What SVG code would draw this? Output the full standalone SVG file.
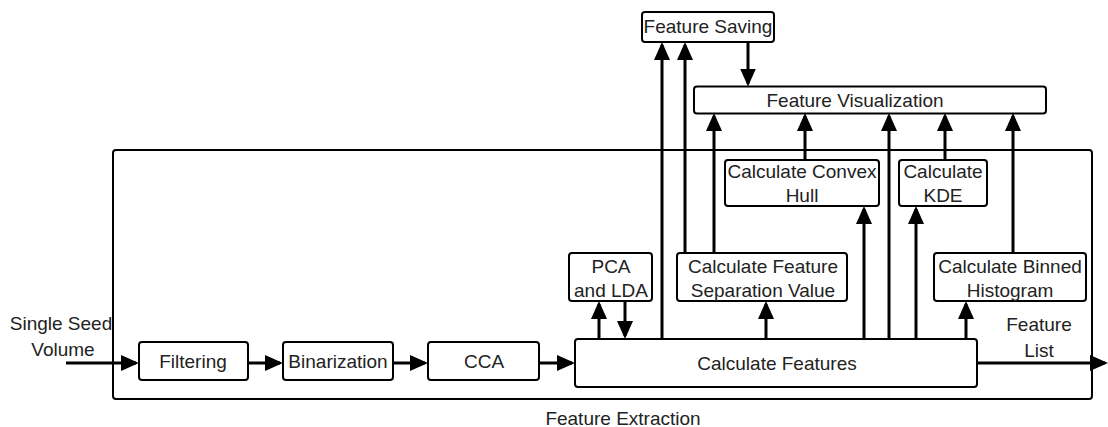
<svg xmlns="http://www.w3.org/2000/svg" width="1108" height="427" viewBox="0 0 1108 427">
<style>
.box{fill:#fff;stroke:#000;stroke-width:2}
.frame{fill:none;stroke:#000;stroke-width:2}
.c{fill:none;stroke:#000;stroke-width:3}
.t{font-family:"Liberation Sans",Arial,sans-serif;font-size:19px;fill:#222;text-anchor:middle}
</style>
<defs>
<marker id="ah" markerUnits="userSpaceOnUse" markerWidth="19" markerHeight="17" refX="15" refY="8" orient="auto">
<path d="M0,0 L18,8 L0,16 Z" fill="#000"/>
</marker>
</defs>
<rect id="frame" class="frame" x="113" y="150" width="979" height="249" rx="3"/>
<g id="connectors" class="c" marker-end="url(#ah)">
<path d="M599,339 V304"/>
<path d="M625,301 V336"/>
<path d="M662,339 V45"/>
<path d="M685,253 V45"/>
<path d="M714,253 V116"/>
<path d="M766,339 V304"/>
<path d="M748,42 V83.5"/>
<path d="M805,160 V116"/>
<path d="M864,339 V209"/>
<path d="M889,339 V116"/>
<path d="M916,339 V209"/>
<path d="M945,160 V116"/>
<path d="M966,339 V304"/>
<path d="M1013,253 V116"/>
<path d="M977,363 H1105"/>
<path d="M66,363 H136"/>
<path d="M248,363 H280"/>
<path d="M393,363 H425"/>
<path d="M539,363 H572"/>
</g>
<g id="feature-saving"><rect class="box" x="642" y="12" width="132" height="30" rx="3"/><text class="t" x="708" y="33">Feature Saving</text></g>
<g id="feature-visualization"><rect class="box" x="694" y="86.5" width="352" height="27" rx="3"/><text class="t" x="855" y="107">Feature Visualization</text></g>
<g id="convex-hull"><rect class="box" x="725" y="160" width="154" height="46" rx="3"/><text class="t" x="802" y="178">Calculate Convex</text><text class="t" x="802" y="202">Hull</text></g>
<g id="kde"><rect class="box" x="899" y="160" width="88" height="46" rx="3"/><text class="t" x="943" y="178">Calculate</text><text class="t" x="943" y="202">KDE</text></g>
<g id="pca-lda"><rect class="box" x="569" y="253" width="83" height="48" rx="3"/><text class="t" x="611" y="273">PCA</text><text class="t" x="611" y="297">and LDA</text></g>
<g id="feature-separation"><rect class="box" x="677" y="253" width="170" height="48" rx="3"/><text class="t" x="763" y="273">Calculate Feature</text><text class="t" x="763" y="297">Separation Value</text></g>
<g id="binned-histogram"><rect class="box" x="934" y="253" width="152" height="48" rx="3"/><text class="t" x="1010" y="273">Calculate Binned</text><text class="t" x="1010" y="297">Histogram</text></g>
<g id="calculate-features"><rect class="box" x="575" y="339" width="402" height="48" rx="3"/><text class="t" x="777" y="370">Calculate Features</text></g>
<g id="filtering"><rect class="box" x="139" y="342" width="109" height="38" rx="3"/><text class="t" x="193" y="368">Filtering</text></g>
<g id="binarization"><rect class="box" x="283" y="342" width="110" height="38" rx="3"/><text class="t" x="338" y="368">Binarization</text></g>
<g id="cca"><rect class="box" x="428" y="342" width="111" height="38" rx="3"/><text class="t" x="484" y="368">CCA</text></g>
<g id="labels">
<text class="t" x="61" y="330">Single Seed</text>
<text class="t" x="63" y="356">Volume</text>
<text class="t" x="1039" y="331">Feature</text>
<text class="t" x="1039" y="357">List</text>
<text class="t" x="623" y="425">Feature Extraction</text>
</g>
</svg>
